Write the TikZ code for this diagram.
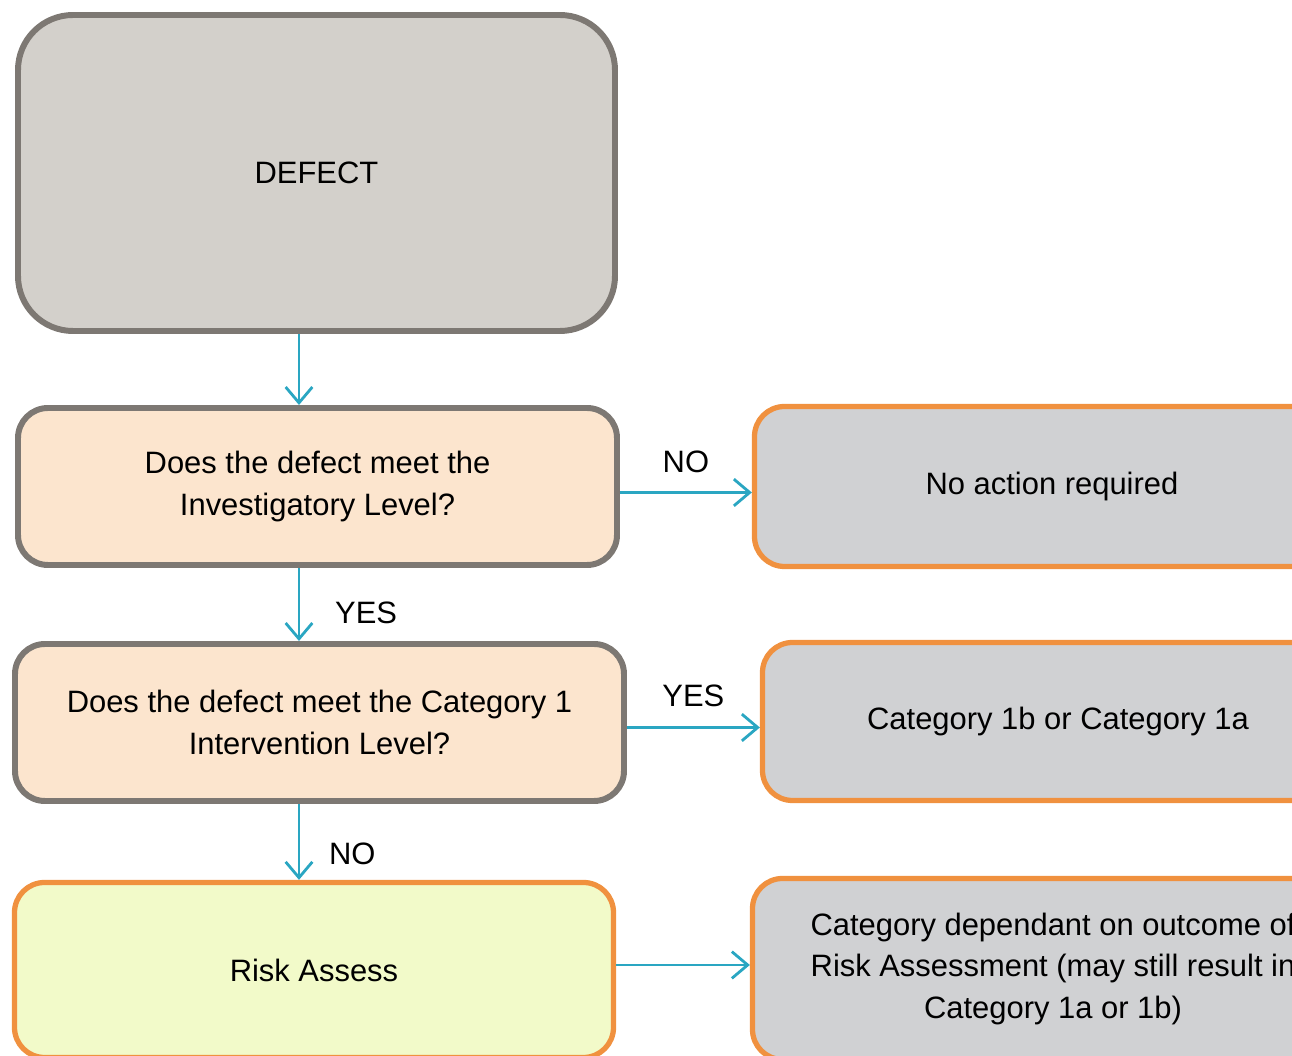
\documentclass[tikz,border=0pt]{standalone}
\usepackage{fontspec}
\setmainfont{Liberation Sans}
\usetikzlibrary{arrows.meta}
\definecolor{boxgray}{HTML}{D3D0CB}
\definecolor{edgegray}{HTML}{7D7873}
\definecolor{peach}{HTML}{FCE5CE}
\definecolor{lime}{HTML}{F2FAC9}
\definecolor{outgray}{HTML}{D0D1D3}
\definecolor{edgeorange}{HTML}{F0913F}
\definecolor{flowteal}{HTML}{2AA6C2}

\begin{document}
\begin{tikzpicture}[>={Straight Barb[length=4.5pt,width=7.6pt]},
  font=\fontsize{8.8}{11.7}\selectfont,
  box/.style={draw, line width=1.7pt, align=center, inner sep=0pt},
  question/.style={box, draw=edgegray, fill=peach, rounded corners=0.3cm},
  outcomebox/.style={box, draw=edgeorange, line width=1.5pt, fill=outgray, rounded corners=0.3cm},
  flow/.style={->, draw=flowteal, line width=0.8pt}]
 \useasboundingbox (0,0) rectangle (12.92,10.56);
 \clip (0,0) rectangle (12.92,10.56);

 \node[box, draw=edgegray, fill=boxgray, rounded corners=0.55cm,
   minimum width=5.97cm, minimum height=3.16cm] (defect) at (3.165,8.83) {DEFECT};
 \node[question, minimum width=5.99cm, minimum height=1.57cm] (investig) at (3.175,5.695)
   {Does the defect meet the\\Investigatory Level?};
 \node[question, minimum width=6.09cm, minimum height=1.57cm] (interv) at (3.195,3.335)
   {Does the defect meet the Category 1\\Intervention Level?};
 \node[box, draw=edgeorange, line width=1.5pt, fill=lime, rounded corners=0.3cm,
   minimum width=5.99cm, minimum height=1.75cm] (risk) at (3.14,0.86) {Risk Assess};

 \node[outcomebox, minimum width=5.95cm, minimum height=1.6cm] (noaction) at (10.52,5.695)
   {No action required};
 \node[outcomebox, minimum width=5.91cm, minimum height=1.58cm] (category) at (10.58,3.345)
   {Category 1b or Category 1a};
 \node[outcomebox, minimum width=6.01cm, minimum height=1.81cm] (outcome) at (10.53,0.87)
   {Category dependant on outcome of\\Risk Assessment (may still result in\\Category 1a or 1b)};

 \coordinate (spine) at (2.99,0);
 \draw[flow] (defect.south -| spine) -- (investig.north -| spine);
 \draw[flow] (investig.south -| spine) -- node[pos=0.62, right=0.23cm] {YES} (interv.north -| spine);
 \draw[flow] (interv.south -| spine) -- node[pos=0.66, right=0.17cm] {NO} (risk.north -| spine);

 \draw[flow] ([yshift=-0.06cm]investig.east) -- node[above=0.07cm] {NO}
   ([yshift=-0.06cm]investig.east -| noaction.west);
 \draw[flow] ([yshift=-0.05cm]interv.east) -- node[above=0.08cm] {YES}
   ([yshift=-0.05cm]interv.east -| category.west);
 \draw[flow] ([yshift=0.05cm]risk.east) -- ([yshift=0.05cm]risk.east -| outcome.west);
\end{tikzpicture}
\end{document}
